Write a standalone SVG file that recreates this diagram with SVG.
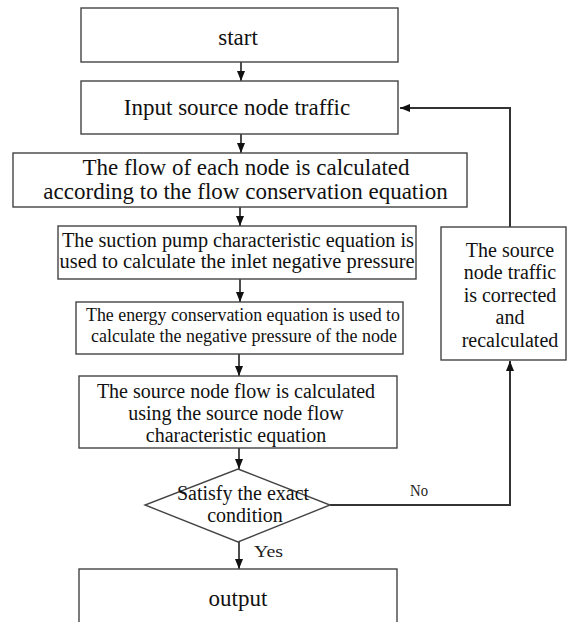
<svg xmlns="http://www.w3.org/2000/svg" width="567" height="622" viewBox="0 0 567 622">
<style>
.box{fill:#fff;stroke:#444;stroke-width:1.4}
.t{font-family:"Liberation Serif","Times New Roman",serif;fill:#111;text-anchor:middle}
.lbl{font-family:"Liberation Serif","Times New Roman",serif;fill:#222}
.c{fill:none;stroke:#111;stroke-width:1.5}
.loop{fill:none;stroke:#333;stroke-width:2}
</style>
<defs>
<marker id="ah" viewBox="0 0 10 8" refX="10" refY="4" markerWidth="10" markerHeight="8" markerUnits="userSpaceOnUse" orient="auto">
<path d="M0,0 L10,4 L0,8 Z" fill="#111"/>
</marker>
</defs>
<rect width="567" height="622" fill="#fff"/>
<g id="connectors">
<line class="c" x1="241" y1="62" x2="241" y2="81" marker-end="url(#ah)"/>
<line class="c" x1="241" y1="134" x2="241" y2="153" marker-end="url(#ah)"/>
<line class="c" x1="240" y1="207" x2="240" y2="226" marker-end="url(#ah)"/>
<line class="c" x1="240" y1="279" x2="240" y2="302" marker-end="url(#ah)"/>
<line class="c" x1="239" y1="354" x2="239" y2="376" marker-end="url(#ah)"/>
<line class="c" x1="239" y1="448" x2="239" y2="469" marker-end="url(#ah)"/>
<line class="c" x1="239" y1="542" x2="239" y2="569" marker-end="url(#ah)"/>
<polyline class="loop" points="510,227 510,108 400,108" marker-end="url(#ah)"/>
<polyline class="loop" points="330,505 510,505 510,361" marker-end="url(#ah)"/>
<text class="lbl" x="254" y="557" font-size="17" textLength="29" lengthAdjust="spacingAndGlyphs">Yes</text>
<text class="lbl" x="410" y="496" font-size="17" textLength="18" lengthAdjust="spacingAndGlyphs">No</text>
</g>
<g id="start">
<rect class="box" x="81" y="8" width="317" height="54"/>
<text class="t" x="238" y="45" font-size="23">start</text>
</g>
<g id="input">
<rect class="box" x="81" y="81" width="317" height="53"/>
<text class="t" x="237" y="115" font-size="23">Input source node traffic</text>
</g>
<g id="flow">
<rect class="box" x="13" y="153" width="454" height="54"/>
<text class="t" x="246" y="175" font-size="23">The flow of each node is calculated</text>
<text class="t" x="245.5" y="199" font-size="23">according to the flow conservation equation</text>
</g>
<g id="suction">
<rect class="box" x="58" y="226" width="358" height="53"/>
<text class="t" x="238" y="247" font-size="20.5" textLength="352" lengthAdjust="spacingAndGlyphs">The suction pump characteristic equation is</text>
<text class="t" x="237" y="268" font-size="20.5" textLength="355" lengthAdjust="spacingAndGlyphs">used to calculate the inlet negative pressure</text>
</g>
<g id="energy">
<rect class="box" x="76" y="302" width="327" height="52"/>
<text class="t" x="243" y="321" font-size="18" textLength="314" lengthAdjust="spacingAndGlyphs">The energy conservation equation is used to</text>
<text class="t" x="244" y="342" font-size="18" textLength="306" lengthAdjust="spacingAndGlyphs">calculate the negative pressure of the node</text>
</g>
<g id="sourceflow">
<rect class="box" x="79" y="376" width="318" height="72"/>
<text class="t" x="236" y="398" font-size="20">The source node flow is calculated</text>
<text class="t" x="236" y="420" font-size="20">using the source node flow</text>
<text class="t" x="236" y="442" font-size="20">characteristic equation</text>
</g>
<g id="decision">
<polygon class="box" points="238,469 330,505 238,542 145,505"/>
<text class="t" x="243" y="500" font-size="20">Satisfy the exact</text>
<text class="t" x="245" y="522" font-size="20">condition</text>
</g>
<g id="output">
<rect class="box" x="79" y="569" width="318" height="60"/>
<text class="t" x="238" y="606" font-size="23">output</text>
</g>
<g id="correct">
<rect class="box" x="441" y="227" width="125" height="133"/>
<text class="t" x="510" y="257" font-size="20">The source</text>
<text class="t" x="510" y="279" font-size="20">node traffic</text>
<text class="t" x="510" y="302" font-size="20">is corrected</text>
<text class="t" x="510" y="324" font-size="20">and</text>
<text class="t" x="510" y="347" font-size="20">recalculated</text>
</g>
</svg>
